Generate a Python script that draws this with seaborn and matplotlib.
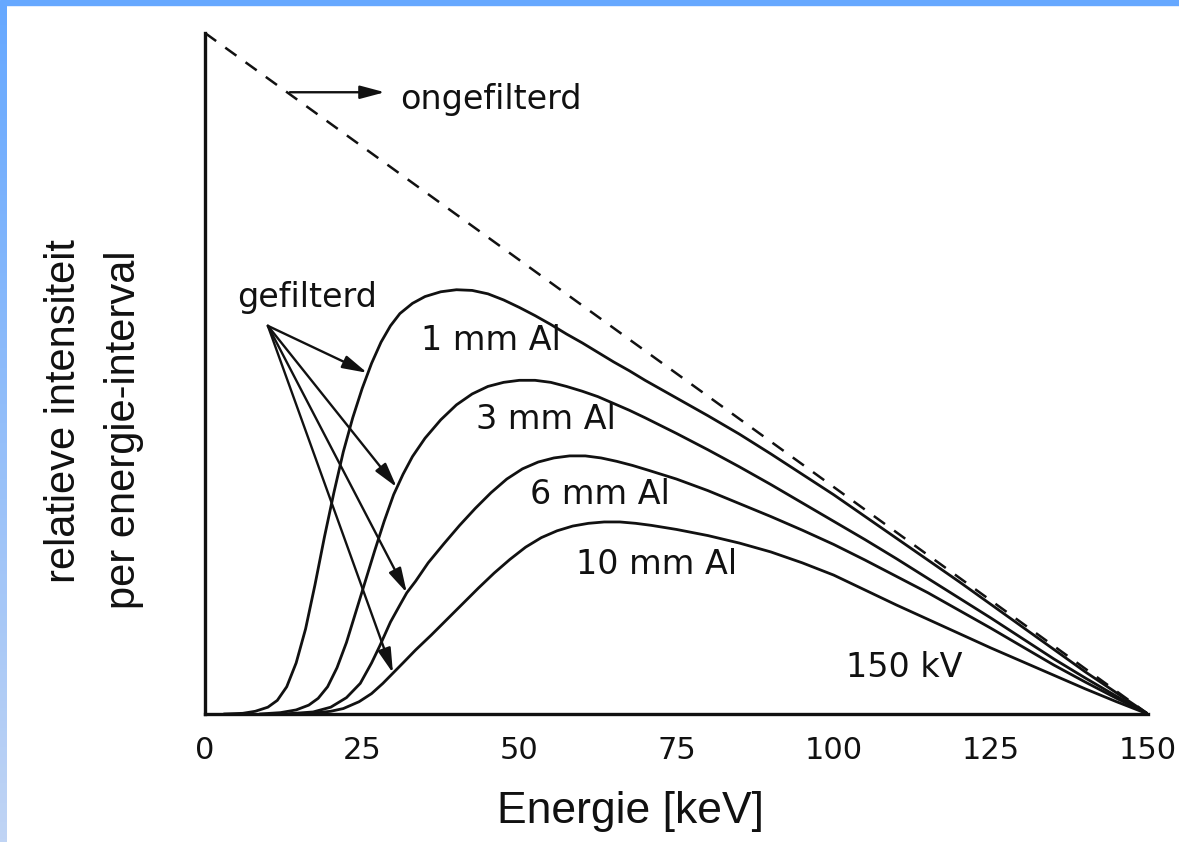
import numpy as np
import pandas as pd
import seaborn as sns
import matplotlib.pyplot as plt
from matplotlib.patches import Rectangle

# (energy in keV, relative intensity 0..1)
e_1mm = [3, 6, 8, 10, 11.5, 13, 14.5, 16, 17.5, 19, 20.5, 22, 23.5, 25, 26.5, 28, 29.5, 31, 33,
         35, 37.5, 40, 42.5, 45, 47.5, 50, 52.5, 55, 57.5, 60, 62.5, 65, 67.5, 70, 75, 80, 85,
         90, 95, 100, 105, 110, 115, 120, 125, 130, 135, 140, 145, 150]
i_1mm = [0.0, 0.001, 0.004, 0.01, 0.02, 0.04, 0.075, 0.125, 0.19, 0.26, 0.325, 0.385, 0.435,
         0.478, 0.515, 0.546, 0.57, 0.588, 0.603, 0.613, 0.62, 0.623, 0.622, 0.617, 0.608, 0.597,
         0.585, 0.572, 0.558, 0.545, 0.531, 0.517, 0.504, 0.49, 0.464, 0.438, 0.411, 0.382, 0.352,
         0.322, 0.29, 0.258, 0.226, 0.194, 0.161, 0.128, 0.095, 0.062, 0.031, 0.0]

e_3mm = [8.7, 12, 14.5, 16.5, 18, 19.5, 21, 22.5, 24, 25.5, 27, 28.5, 30, 31.5, 33, 35, 37.5,
         40, 42.5, 45, 47.5, 50, 52.5, 55, 57.5, 60, 62.5, 65, 67.5, 70, 75, 80, 85, 90, 95,
         100, 105, 110, 115, 120, 125, 130, 135, 140, 145, 150]
i_3mm = [0.0, 0.002, 0.006, 0.013, 0.023, 0.04, 0.068, 0.105, 0.15, 0.195, 0.24, 0.283, 0.322,
         0.352, 0.378, 0.405, 0.432, 0.454, 0.47, 0.481, 0.487, 0.49, 0.49, 0.487, 0.481, 0.474,
         0.466, 0.456, 0.446, 0.435, 0.412, 0.388, 0.363, 0.337, 0.31, 0.283, 0.256, 0.228,
         0.199, 0.17, 0.141, 0.111, 0.081, 0.053, 0.026, 0.0]

e_6mm = [12.7, 17.2, 20, 22.5, 24.7, 26.5, 27.8, 29.5, 31, 32.1, 33.5, 35.5, 38, 40.5, 43, 45.5,
         48, 50.5, 53, 55.5, 58, 60.5, 63, 65.5, 68, 70.5, 75, 80, 85, 90, 95, 100, 105, 110,
         115, 120, 125, 130, 135, 140, 145, 150]
i_6mm = [0.0, 0.003, 0.01, 0.024, 0.045, 0.075, 0.1, 0.135, 0.16, 0.178, 0.195, 0.222, 0.25,
         0.277, 0.302, 0.325, 0.345, 0.36, 0.37, 0.376, 0.379, 0.379, 0.376, 0.371, 0.365, 0.358,
         0.345, 0.328, 0.309, 0.29, 0.27, 0.249, 0.226, 0.202, 0.178, 0.152, 0.126, 0.099,
         0.072, 0.047, 0.023, 0.0]

e_10mm = [13.5, 17, 20, 22, 24.5, 26.5, 28.3, 29.9, 31.5, 33.5, 36, 38.5, 41, 43.5, 46, 48.5,
          51, 53.5, 56, 58.5, 61, 63.5, 66, 68.5, 71, 75, 80, 85, 90, 95, 100, 105, 110, 115,
          120, 125, 130, 135, 140, 145, 150]
i_10mm = [0.0, 0.001, 0.004, 0.008, 0.018, 0.03, 0.045, 0.06, 0.075, 0.094, 0.116, 0.139, 0.162,
          0.185, 0.207, 0.227, 0.245, 0.259, 0.269, 0.276, 0.28, 0.282, 0.282, 0.28, 0.277, 0.271,
          0.262, 0.251, 0.238, 0.222, 0.204, 0.182, 0.16, 0.139, 0.118, 0.097, 0.077, 0.057,
          0.037, 0.018, 0.0]

e_open = [0.0, 150.0]
i_open = [1.0, 0.0]

filter_labels = ["1 mm Al", "3 mm Al", "6 mm Al", "10 mm Al"]
label_pos = [(45.5, 0.549), (54.2, 0.432), (62.8, 0.323), (71.9, 0.220)]
arrow_tips = [(25.8, 0.501), (30.5, 0.333), (32.1, 0.178), (29.9, 0.060)]
xticks = [0, 25, 50, 75, 100, 125, 150]

frames = []
for name, e, i in zip(filter_labels, [e_1mm, e_3mm, e_6mm, e_10mm], [i_1mm, i_3mm, i_6mm, i_10mm]):
    frames.append(pd.DataFrame({"energie": e, "intensiteit": i, "filter": name}))
df = pd.concat(frames, ignore_index=True)
df_open = pd.DataFrame({"energie": e_open, "intensiteit": i_open})

sns.set_theme(style="white")
plt.rcParams["font.family"] = ["DejaVu Sans"]

fig = plt.figure(figsize=(11.79, 8.42), dpi=100)
ax = fig.add_axes([205 / 1179, 128 / 842, 943 / 1179, 681 / 842])

sns.lineplot(data=df, x="energie", y="intensiteit", units="filter", estimator=None,
             sort=False, color="#111111", linewidth=2.0, ax=ax)
sns.lineplot(data=df_open, x="energie", y="intensiteit", color="#111111", linewidth=1.8,
             linestyle=(0, (5.5, 4.5)), ax=ax)

ax.set_xlim(0, 150)
ax.set_ylim(0, 1)
ax.set_xticks(xticks)
ax.set_yticks([1])
ax.set_yticklabels([])
ax.tick_params(axis="x", direction="out", length=11, width=1.8, pad=5, labelsize=22,
               colors="#111111")
ax.tick_params(axis="y", direction="in", length=4, width=1.8)
ax.set_xlabel("")
ax.set_ylabel("")
for s in ["top", "right"]:
    ax.spines[s].set_visible(False)
for s in ["left", "bottom"]:
    ax.spines[s].set_linewidth(2.4)
    ax.spines[s].set_color("#111111")
    ax.spines[s].set_clip_on(False)

txt = dict(fontsize=24, color="#111111")
for lab, (x, y) in zip(filter_labels, label_pos):
    ax.text(x, y, lab, ha="center", va="center", **txt)
ax.text(111.2, 0.068, "150 kV", ha="center", va="center", **txt)
ax.text(31.0, 0.903, "ongefilterd", ha="left", va="center", **txt)
ax.text(5.1, 0.612, "gefilterd", ha="left", va="center", **txt)

arrow = dict(arrowstyle="-|>,head_length=0.75,head_width=0.2", color="#111111", lw=1.7,
             mutation_scale=20, shrinkA=0, shrinkB=0)
ax.annotate("", xy=(28.6, 0.913), xytext=(13.5, 0.913), arrowprops=arrow)
for tip in arrow_tips:
    ax.annotate("", xy=tip, xytext=(10.0, 0.570), arrowprops=arrow)

lab_font = ["Liberation Sans", "DejaVu Sans"]
fig.text(630 / 1179, 1 - 811 / 842, "Energie [keV]", ha="center", va="center",
         fontsize=32, family=lab_font, color="#111111")
fig.text(64 / 1179, 1 - 411 / 842, "relatieve intensiteit", rotation=90, ha="center",
         va="center", fontsize=30, family=lab_font, color="#111111")
fig.text(124 / 1179, 1 - 430 / 842, "per energie-interval", rotation=90, ha="center",
         va="center", fontsize=30, family=lab_font, color="#111111")

# blue frame of the slide
fig.patches.append(Rectangle((0, 1 - 5 / 842), 1, 5 / 842, transform=fig.transFigure,
                             color="#66a8ff", zorder=0))
bar = fig.add_axes([0, 0, 7 / 1179, 1 - 5 / 842])
grad = np.linspace(0, 1, 256)[:, None]
top_c = np.array([102, 168, 255]) / 255
bot_c = np.array([192, 212, 244]) / 255
bar.imshow(top_c + grad[..., None] * (bot_c - top_c), aspect="auto")
bar.set_axis_off()

fig.savefig("out.png", dpi=100)
